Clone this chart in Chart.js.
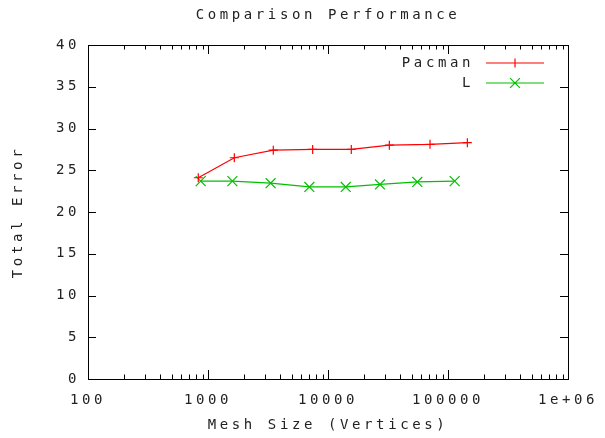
<!DOCTYPE html>
<html>
<head>
<meta charset="utf-8">
<script src="https://cdn.jsdelivr.net/npm/chart.js@4/dist/chart.umd.min.js"></script>
<style>
  html, body { margin: 0; padding: 0; background: #fff; }
  #wrap { width: 605px; height: 438px; }
</style>
</head>
<body>
<div id="wrap"><canvas id="perfChart" width="605" height="438"></canvas></div>
<script>
// --- data ---
const seriesNames = ['Pacman', 'L'];
const pacmanSizes = [830, 1657, 3500, 7450, 15640, 32450, 70800, 145000];
const pacmanError = [24.1, 26.5, 27.4, 27.5, 27.5, 28.0, 28.1, 28.3];
const lSizes = [869, 1596, 3325, 6990, 14060, 27100, 55500, 113700];
const lError = [23.7, 23.7, 23.45, 23.0, 23.0, 23.3, 23.6, 23.7];
const xTickValues = [100, 1000, 10000, 100000, 1000000];
const xTickLabels = ['100', '1000', '10000', '100000', '1e+06'];

const FONT = "'DejaVu Sans Mono', monospace";
const FSIZE = 14;
const TEXT = '#222';

const toPoints = (xs, ys) => xs.map((x, i) => ({ x: x, y: ys[i] }));

// gnuplot-like frame: border, inward ticks on all sides, custom legend
const frame = {
  id: 'frame',
  beforeDraw(chart) {
    chart.ctx.letterSpacing = '3.6px';
  },
  afterDraw(chart) {
    const ctx = chart.ctx;
    const a = chart.chartArea;
    const xs = chart.scales.x, ys = chart.scales.y;
    ctx.save();
    ctx.strokeStyle = '#000';
    ctx.lineWidth = 1;
    ctx.beginPath();
    // y ticks
    ys.ticks.forEach(t => {
      const py = Math.round(ys.getPixelForValue(t.value)) + 0.5;
      ctx.moveTo(a.left, py); ctx.lineTo(a.left + 8, py);
      ctx.moveTo(a.right, py); ctx.lineTo(a.right - 8, py);
    });
    // x ticks, major + minor per decade
    for (let d = 100; d <= 1000000; d *= 10) {
      for (let m = 1; m < 10; m++) {
        const v = d * m;
        if (v > 1000000) break;
        const px = Math.round(xs.getPixelForValue(v)) + 0.5;
        const len = m === 1 ? 9 : 4.5;
        ctx.moveTo(px, a.bottom); ctx.lineTo(px, a.bottom - len);
        ctx.moveTo(px, a.top); ctx.lineTo(px, a.top + len);
      }
    }
    ctx.stroke();
    ctx.strokeRect(Math.round(a.left) + 0.5, Math.round(a.top) + 0.5,
      Math.round(a.right - a.left), Math.round(a.bottom - a.top));

    // legend
    ctx.font = FSIZE + 'px ' + FONT;
    ctx.textAlign = 'right';
    ctx.textBaseline = 'middle';
    chart.data.datasets.forEach((ds, i) => {
      const y = a.top + 18 + i * 20;
      ctx.fillStyle = TEXT;
      ctx.fillText(ds.label, a.right - 94, y);
      ctx.strokeStyle = ds.borderColor;
      ctx.lineWidth = ds.borderWidth;
      ctx.beginPath();
      ctx.moveTo(a.right - 82, y); ctx.lineTo(a.right - 24, y);
      const cx = a.right - 53;
      if (ds.pointStyle === 'cross') {
        const r = ds.pointRadius;
        ctx.moveTo(cx, y - r); ctx.lineTo(cx, y + r);
        ctx.moveTo(cx - r, y); ctx.lineTo(cx + r, y);
      } else {
        const r = ds.pointRadius * Math.SQRT1_2;
        ctx.moveTo(cx - r, y - r); ctx.lineTo(cx + r, y + r);
        ctx.moveTo(cx - r, y + r); ctx.lineTo(cx + r, y - r);
      }
      ctx.stroke();
    });
    ctx.restore();
  }
};

new Chart(document.getElementById('perfChart'), {
  type: 'line',
  data: {
    datasets: [
      {
        label: seriesNames[0],
        data: toPoints(pacmanSizes, pacmanError),
        borderColor: '#ff0000',
        borderWidth: 1.2,
        pointStyle: 'cross',
        pointRadius: 4.5,
        pointBorderWidth: 1.2,
        pointBorderColor: '#ff0000',
        fill: false,
        tension: 0
      },
      {
        label: seriesNames[1],
        data: toPoints(lSizes, lError),
        borderColor: '#00c000',
        borderWidth: 1.2,
        pointStyle: 'crossRot',
        pointRadius: 7,
        pointBorderWidth: 1.2,
        pointBorderColor: '#00c000',
        fill: false,
        tension: 0
      }
    ]
  },
  options: {
    responsive: false,
    animation: false,
    layout: { padding: { left: 0, right: 37, top: 0, bottom: 0 } },
    plugins: {
      legend: { display: false },
      tooltip: { enabled: false },
      title: {
        display: true,
        text: 'Comparison Performance',
        fullSize: false,
        color: TEXT,
        font: { family: FONT, size: FSIZE, weight: 'normal' },
        padding: { top: 7, bottom: 21.2 }
      }
    },
    scales: {
      x: {
        type: 'logarithmic',
        min: 100,
        max: 1000000,
        afterBuildTicks: (scale) => {
          scale.ticks = xTickValues.map(v => ({ value: v }));
        },
        afterFit: (scale) => { scale.height = 59; },
        grid: { display: false, drawTicks: false },
        border: { display: false },
        ticks: {
          color: TEXT,
          padding: 13,
          maxRotation: 0,
          autoSkip: false,
          font: { family: FONT, size: FSIZE },
          callback: (v) => {
            const i = xTickValues.indexOf(v);
            return i >= 0 ? xTickLabels[i] : '';
          }
        },
        title: {
          display: true,
          text: 'Mesh Size (Vertices)',
          color: TEXT,
          font: { family: FONT, size: FSIZE },
          padding: { top: 0, bottom: 4 }
        }
      },
      y: {
        min: 0,
        max: 40,
        afterFit: (scale) => { scale.width = 88; },
        grid: { display: false, drawTicks: false },
        border: { display: false },
        ticks: {
          stepSize: 5,
          color: TEXT,
          padding: 8,
          font: { family: FONT, size: FSIZE }
        },
        title: {
          display: true,
          text: 'Total Error',
          color: TEXT,
          font: { family: FONT, size: FSIZE },
          padding: { top: 10, bottom: 0 }
        }
      }
    }
  },
  plugins: [frame]
});
</script>
</body>
</html>
